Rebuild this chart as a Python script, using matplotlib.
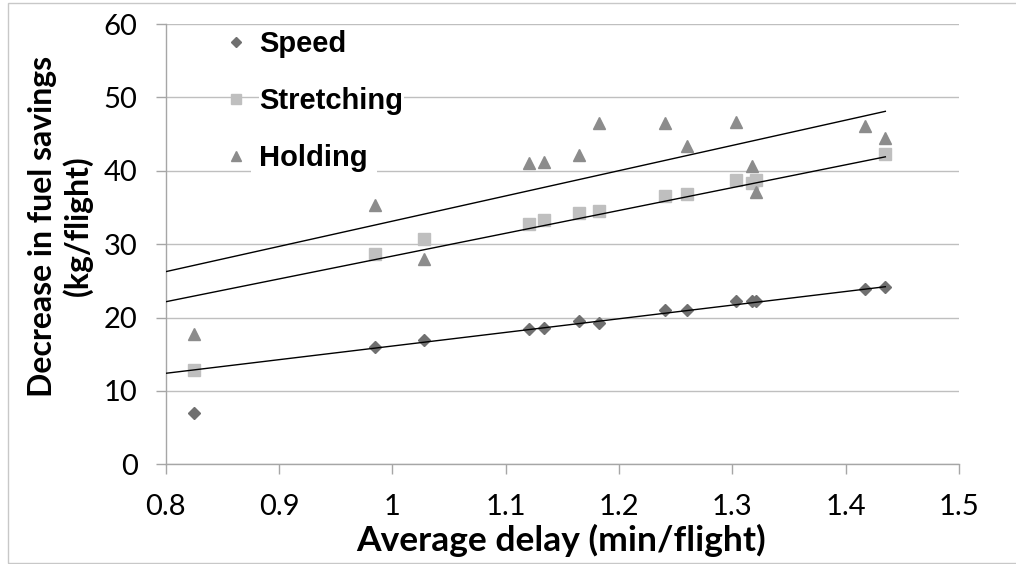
import numpy as np
import matplotlib
matplotlib.use("Agg")
import matplotlib.pyplot as plt
from matplotlib.patches import Rectangle

# ---- data ----
delay = [0.825, 0.985, 1.028, 1.121, 1.134, 1.165, 1.182, 1.241, 1.260, 1.303, 1.317, 1.321, 1.417, 1.435]
speed = [7.0, 16.0, 17.0, 18.4, 18.6, 19.5, 19.3, 21.0, 21.0, 22.2, 22.3, 22.3, 23.9, 24.2]
stretching = [12.9, 28.7, 30.7, 32.7, 33.3, 34.3, 34.5, 36.5, 36.8, 38.8, 38.4, 38.8, np.nan, 42.3]
holding = [17.8, 35.3, 28.0, 41.0, 41.2, 42.1, 46.45, 46.45, 43.4, 46.6, 40.6, 37.05, 46.1, 44.5]

trend_x = [0.8, 1.435]
speed_trend = [12.4, 24.2]
stretching_trend = [22.15, 41.9]
holding_trend = [26.25, 48.1]

xticks = [0.8, 0.9, 1.0, 1.1, 1.2, 1.3, 1.4, 1.5]
xticklabels = ["0.8", "0.9", "1", "1.1", "1.2", "1.3", "1.4", "1.5"]
yticks = [0, 10, 20, 30, 40, 50, 60]

W, H = 1016, 564
fig = plt.figure(figsize=(W / 100, H / 100), dpi=100)
ax = fig.add_axes([165.7 / W, 1 - 464.3 / H, (959 - 165.7) / W, (464.3 - 24) / H])

c_speed = "#707070"
c_str = "#BFBFBF"
c_hold = "#8C8C8C"

ax.plot(delay, speed, linestyle="none", marker="D", ms=6.1, color=c_speed, label="Speed", zorder=2)
ax.plot(delay, stretching, linestyle="none", marker="s", ms=8.6, color=c_str, label="Stretching", zorder=2)
ax.plot(delay, holding, linestyle="none", marker="^", ms=8.6, color=c_hold, label="Holding", zorder=2)

for tr in (speed_trend, stretching_trend, holding_trend):
    ax.plot(trend_x, tr, color="black", lw=1.0, zorder=3)

ax.set_xlim(0.8, 1.5)
ax.set_ylim(0, 60)
ax.set_xticks(xticks)
ax.set_xticklabels(xticklabels)
ax.set_yticks(yticks)

gridc = "#BFBFBF"
ax.grid(axis="y", color=gridc, lw=1.0)
ax.set_axisbelow(True)
for s in ("top", "right"):
    ax.spines[s].set_visible(False)
for s in ("left", "bottom"):
    ax.spines[s].set_color("#A6A6A6")
    ax.spines[s].set_linewidth(1.0)

tick_font = "Lato"
ax.tick_params(axis="both", direction="out", length=7.2, width=1.0, color="#A6A6A6",
               labelsize=21, labelcolor="black")
ax.tick_params(axis="x", pad=14)
ax.tick_params(axis="y", pad=13)
for lab in ax.get_xticklabels() + ax.get_yticklabels():
    lab.set_fontfamily(tick_font)

fig.text(561 / W, 1 - 540 / H, "Average delay (min/flight)", ha="center", va="center",
         fontsize=25.5, fontweight="bold", family="Lato")
fig.text(60 / W, 1 - 226 / H, "Decrease in fuel savings\n(kg/flight)", ha="center", va="center",
         rotation=90, fontsize=23, fontweight="bold", family="Lato", multialignment="center",
         linespacing=1.2)

leg = ax.legend(loc="upper left", bbox_to_anchor=((224.3 - 165.7) / 793.3, (464.3 - 30) / 440.3),
                frameon=False, borderpad=0, borderaxespad=0, handlelength=0.8, handletextpad=0.4,
                labelspacing=1.0, markerscale=0.8,
                prop={"family": "Liberation Sans", "weight": "bold", "size": 21})
texts = leg.get_texts()
texts[1].set_bbox(dict(facecolor="white", edgecolor="none", boxstyle="square,pad=0.02"))
texts[2].set_bbox(dict(facecolor="white", edgecolor="none", boxstyle="square,pad=0.3"))

fig.add_artist(Rectangle((8 / W, 1 / H), 1.2, 1 - 4.3 / H, transform=fig.transFigure,
                         fill=False, edgecolor="#C8C8C8", lw=1.0))

fig.savefig("out.png", dpi=100)
